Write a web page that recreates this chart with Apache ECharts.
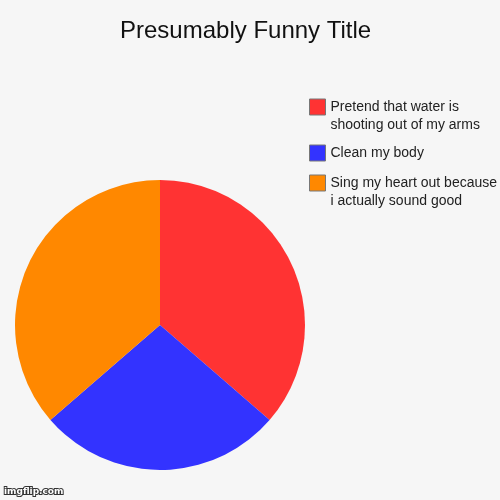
<!DOCTYPE html>
<html>
<head>
<meta charset="utf-8">
<script src="https://cdn.jsdelivr.net/npm/echarts@6/dist/echarts.min.js"></script>
<style>
  html, body { margin: 0; padding: 0; background: #f6f6f6; }
  #chart { width: 500px; height: 500px; }
</style>
</head>
<body>
<div id="chart"></div>
<script>
// slice labels, in drawing order (clockwise from 12 o'clock)
const categories = [
  'Pretend that water is\nshooting out of my arms',
  'Clean my body',
  'Sing my heart out because\ni actually sound good'
]
const values = [4, 3, 4]
const colors = ['#ff3333', '#3333ff', '#ff8800']
// top of each legend entry (px)
const legendTops = [80, 144, 156]

const chart = echarts.init(document.getElementById('chart'))

// one legend per entry; two-line names get an empty leading line so the
// swatch (centred on the text block) lines up with the first real line
const legends = categories.map((name, i) => {
  const lines = name.split('\n').length
  return {
    orient: 'vertical',
    left: 309,
    top: legendTops[i],
    padding: 0,
    itemWidth: 16,
    itemHeight: 16,
    icon: 'rect',
    itemStyle: { borderColor: '#777', borderWidth: 1 },
    selectedMode: false,
    formatter: n => (lines > 1 ? '\n' + n : n),
    textStyle: {
      fontFamily: 'Liberation Sans',
      fontSize: 14,
      color: '#222',
      lineHeight: 18
    },
    data: [name]
  }
})

const option = {
  backgroundColor: '#f6f6f6',
  animation: false,
  title: {
    text: 'Presumably Funny Title',
    left: 115,
    top: 14,
    textStyle: {
      fontFamily: 'Liberation Sans',
      fontSize: 24,
      fontWeight: 'normal',
      color: '#111'
    }
  },
  legend: legends,
  color: colors,
  series: [{
    type: 'pie',
    center: [160, 325],
    radius: 145,
    startAngle: 90,
    clockwise: true,
    label: { show: false },
    labelLine: { show: false },
    emphasis: { disabled: true },
    itemStyle: { borderWidth: 0 },
    data: categories.map((name, i) => ({ name, value: values[i] }))
  }],
  graphic: [{
    type: 'text',
    left: 3,
    top: 486,
    style: {
      text: 'imgflip.com',
      fontFamily: 'DejaVu Sans',
      fontSize: 9,
      fontWeight: 'bold',
      fill: '#fff',
      stroke: '#333',
      lineWidth: 2
    }
  }]
}

chart.setOption(option)
</script>
</body>
</html>
